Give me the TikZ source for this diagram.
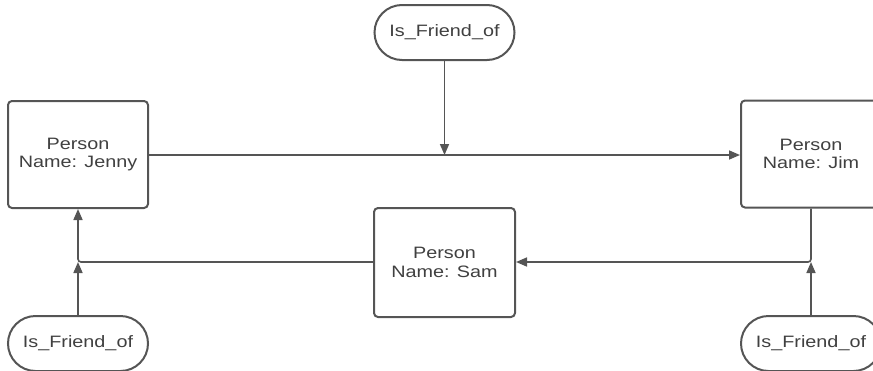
\documentclass[tikz,border=0pt]{standalone}
\usepackage{fontspec}
\setmainfont[FakeStretch=1.2]{Liberation Sans}
\usetikzlibrary{arrows.meta,shapes.misc}
\definecolor{edge}{HTML}{555555}
\definecolor{ink}{HTML}{404040}
\tikzset{
  person/.style={draw=edge, line width=2pt, rounded corners=4pt,
    minimum width=140pt, minimum height=107pt, inner sep=0pt,
    align=center, text=ink, font=\fontsize{16.5}{18.5}\selectfont},
  relation/.style={draw=edge, line width=2pt, rounded rectangle,
    minimum width=140pt, minimum height=55pt, inner sep=0pt,
    text=ink, font=\fontsize{16.5}{18.5}\selectfont},
  link/.style={draw=edge, line width=1.6pt, rounded corners=3pt},
  arrowlink/.style={link, -{Triangle[length=11pt,width=9pt]}}
}
\begin{document}
\begin{tikzpicture}[x=1pt,y=-1pt]
  \useasboundingbox (0,0) rectangle (873,370);
  \clip (0,0) rectangle (873,370);
  \node[person] (jenny) at (78,154.5) {Person\\Name: Jenny};
  \node[person] (jim) at (811,154) {Person\\Name: Jim};
  \node[person, minimum width=141pt, minimum height=109pt] (sam) at (444.5,262.5) {Person\\Name: Sam};
  \node[relation] (reltop) at (444.5,32.5) {Is\_Friend\_of};
  \node[relation] (relleft) at (78,343.5) {Is\_Friend\_of};
  \node[relation] (relright) at (811,343.5) {Is\_Friend\_of};
  \coordinate (jtop) at (444.5,155);
  \coordinate (jleft) at (78,262);
  \coordinate (jright) at (811,262);
  \draw[arrowlink] (jenny.east |- jtop) -- (jim.west |- jtop);
  \draw[arrowlink] (reltop.south) -- (jtop);
  \draw[arrowlink] (sam.west |- jleft) -- (jleft) -- (jenny.south);
  \draw[arrowlink] (relleft.north) -- (jleft);
  \draw[arrowlink] (jim.south) -- (jright) -- (sam.east |- jright);
  \draw[arrowlink] (relright.north) -- (jright);
\end{tikzpicture}
\end{document}
